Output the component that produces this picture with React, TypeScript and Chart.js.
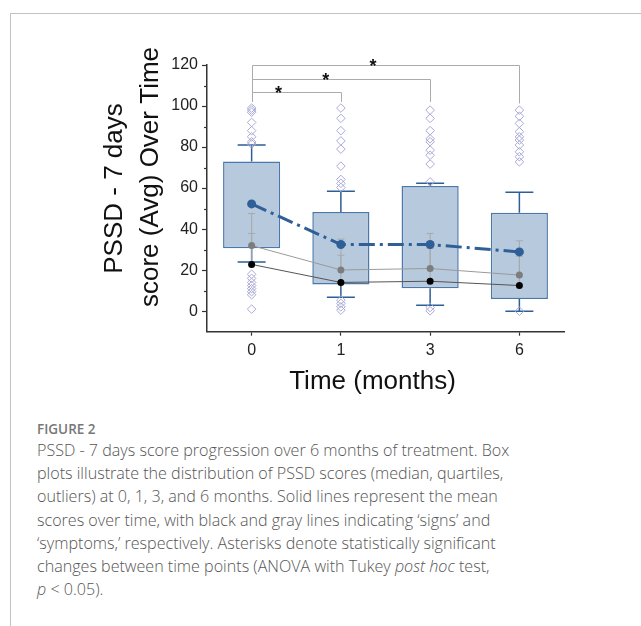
import React, { useEffect, useRef } from 'react';
import { Chart, registerables } from 'chart.js';

Chart.register(...registerables);

// ---------- data ----------
const categories = ['0', '1', '3', '6'];
const q1 = [30.7, 13, 11.2, 6];
const q3 = [73, 48.4, 61, 48];
const whiskerLow = [24, 6.8, 2.9, 0];
const whiskerHigh = [81, 58.5, 62.3, 58];
const meanTotal = [52.3, 32.5, 32.5, 28.9];
const meanSymptoms = [32, 20.1, 20.8, 17.6];
const meanSigns = [22.8, 14, 14.6, 12.5];
const symptomsErrTop = [47.6, 35.1, 37.9, 34.3];
const signsErrTop = [37.9, 27.3, 30.6, 26.8];
const outliers0 = [99, 98, 97, 92, 88, 85, 82.5, 81.5, 18, 16, 14, 12.5, 11, 9.5, 8, 1];
const outliers1 = [99, 94, 88, 83, 79, 70.7, 64.2, 62.3, 60.3, 5.4, 3.8, 2.1, 0.5];
const outliers3 = [98, 94, 88, 84, 82.6, 78.5, 76, 71.7, 63, 1.8, 0.2];
const outliers6 = [98, 95, 91.5, 87.5, 85, 83.4, 81, 77.7, 75.3, 72.8, 0];
const yTicks = [0, 20, 40, 60, 80, 100, 120];
const yMinorTicks = [10, 30, 50, 70, 90, 110];
const bracketFrom = [0, 0, 0];
const bracketTo = [1, 2, 3];
const bracketLevel = [107, 113, 120];
const bracketDropLeft = [102, 102, 102];
const bracketDropRight = [102, 102, 101.3];
const starPos = [0.3, 0.83, 1.36];
const yTitleLines = ['PSSD - 7 days', 'score (Avg) Over Time'];
const xTitle = 'Time (months)';

const FONT = "'Liberation Sans', Arial, Helvetica, sans-serif";

export default function App() {
  const ref = useRef<HTMLCanvasElement>(null);

  useEffect(() => {
    const canvas = ref.current;
    if (!canvas) return;

    const outlierPoints: { x: string; y: number }[] = [];
    [outliers0, outliers1, outliers3, outliers6].forEach((arr, i) => {
      arr.forEach((v) => outlierPoints.push({ x: categories[i], y: v }));
    });

    const overlay = {
      id: 'overlay',
      afterDatasetDraw(chart: any, args: any) {
        if (args.index !== 0) return;
        const ctx = chart.ctx;
        const xs = chart.scales.x;
        const ys = chart.scales.y;
        ctx.save();
        // whiskers
        ctx.strokeStyle = '#2d5e95';
        ctx.lineWidth = 1.5;
        categories.forEach((_, i) => {
          const x = xs.getPixelForValue(i);
          const half = 14;
          const yHi = ys.getPixelForValue(whiskerHigh[i]);
          const yQ3 = ys.getPixelForValue(q3[i]);
          const yLo = ys.getPixelForValue(whiskerLow[i]);
          const yQ1 = ys.getPixelForValue(q1[i]);
          ctx.beginPath();
          ctx.moveTo(x, yQ3);
          ctx.lineTo(x, yHi);
          ctx.moveTo(x - half, yHi);
          ctx.lineTo(x + half, yHi);
          ctx.moveTo(x, yQ1);
          ctx.lineTo(x, yLo);
          ctx.moveTo(x - half, yLo);
          ctx.lineTo(x + half, yLo);
          ctx.stroke();
        });
        // error bars
        ctx.strokeStyle = '#a8a8a8';
        ctx.lineWidth = 1;
        const drawErr = (means: number[], tops: number[]) => {
          categories.forEach((_, i) => {
            const x = xs.getPixelForValue(i);
            const y0 = ys.getPixelForValue(means[i]);
            const y1 = ys.getPixelForValue(tops[i]);
            ctx.beginPath();
            ctx.moveTo(x, y0);
            ctx.lineTo(x, y1);
            ctx.moveTo(x - 3.5, y1);
            ctx.lineTo(x + 3.5, y1);
            ctx.stroke();
          });
        };
        drawErr(meanSymptoms, symptomsErrTop);
        drawErr(meanSigns, signsErrTop);
        ctx.restore();
      },
      afterDraw(chart: any) {
        const ctx = chart.ctx;
        const xs = chart.scales.x;
        const ys = chart.scales.y;
        const area = chart.chartArea;
        ctx.save();
        // minor y ticks
        ctx.strokeStyle = '#333';
        ctx.lineWidth = 1.2;
        yMinorTicks.forEach((v) => {
          const y = Math.round(ys.getPixelForValue(v)) + 0.5;
          ctx.beginPath();
          ctx.moveTo(area.left - 3, y);
          ctx.lineTo(area.left, y);
          ctx.stroke();
        });
        // significance brackets
        ctx.strokeStyle = '#ababab';
        ctx.lineWidth = 1;
        bracketLevel.forEach((lvl, k) => {
          const xa = Math.round(xs.getPixelForValue(bracketFrom[k])) + 0.5;
          const xb = Math.round(xs.getPixelForValue(bracketTo[k])) + 0.5;
          const yl = Math.round(ys.getPixelForValue(lvl)) + 0.5;
          ctx.beginPath();
          ctx.moveTo(xa, ys.getPixelForValue(bracketDropLeft[k]));
          ctx.lineTo(xa, yl);
          ctx.lineTo(xb, yl);
          ctx.lineTo(xb, ys.getPixelForValue(bracketDropRight[k]));
          ctx.stroke();
          // asterisk
          ctx.fillStyle = '#111';
          ctx.font = `bold 18px ${FONT}`;
          ctx.textAlign = 'center';
          ctx.textBaseline = 'alphabetic';
          ctx.fillText('*', xs.getPixelForValue(starPos[k]), yl + 6);
        });
        // axis titles
        ctx.fillStyle = '#111';
        ctx.font = `26px ${FONT}`;
        ctx.textAlign = 'center';
        ctx.textBaseline = 'alphabetic';
        const titlePos = [
          [121.5, 188.5],
          [158, 177],
        ];
        yTitleLines.forEach((t, k) => {
          ctx.save();
          ctx.translate(titlePos[k][0], titlePos[k][1]);
          ctx.rotate(-Math.PI / 2);
          ctx.fillText(t, 0, 0);
          ctx.restore();
        });
        ctx.fillText(xTitle, 372.5, 388.5);
        ctx.restore();
      },
    };

    const chart = new Chart(canvas, {
      type: 'bar',
      data: {
        labels: categories,
        datasets: [
          {
            type: 'bar',
            data: categories.map((_, i) => [q1[i], q3[i]]) as any,
            backgroundColor: '#b7c9dc',
            borderColor: '#4a78ab',
            borderWidth: 1.5,
            borderSkipped: false,
            barPercentage: 0.64,
            categoryPercentage: 1,
            order: 10,
          } as any,
          {
            type: 'line',
            data: outlierPoints as any,
            showLine: false,
            pointStyle: 'rectRot',
            pointRadius: 4.3,
            pointBorderWidth: 1,
            pointBorderColor: '#a9a9d6',
            pointBackgroundColor: 'rgba(255,255,255,0)',
            order: 5,
          } as any,
          {
            type: 'line',
            data: meanSymptoms,
            borderColor: '#9a9a9a',
            borderWidth: 1,
            pointRadius: 3.5,
            pointBorderWidth: 0,
            pointBackgroundColor: '#7d7d7d',
            order: 3,
          } as any,
          {
            type: 'line',
            data: meanSigns,
            borderColor: '#555555',
            borderWidth: 1,
            pointRadius: 3.5,
            pointBorderWidth: 0,
            pointBackgroundColor: '#000000',
            order: 2,
          } as any,
          {
            type: 'line',
            data: meanTotal,
            borderColor: '#2e5f97',
            borderWidth: 3,
            borderDash: [16, 5, 3, 5],
            pointRadius: 4.5,
            pointBorderWidth: 0,
            pointBackgroundColor: '#2e5f97',
            order: 1,
          } as any,
        ],
      },
      options: {
        responsive: false,
        animation: false,
        devicePixelRatio: 1,
        layout: { padding: { left: 0, top: 65, right: 77, bottom: 0 } },
        plugins: { legend: { display: false }, tooltip: { enabled: false } },
        scales: {
          x: {
            type: 'category',
            offset: true,
            afterFit: (s: any) => {
              s.height = 78.3;
            },
            grid: { offset: false, drawOnChartArea: false, tickLength: 4, tickColor: '#333', tickWidth: 1.2 },
            border: { color: '#333', width: 1.5 },
            ticks: { font: { family: FONT, size: 16 }, color: '#222', padding: 5, maxRotation: 0 },
          },
          y: {
            min: -10,
            max: 120,
            afterBuildTicks: (s: any) => {
              s.ticks = yTicks.map((v) => ({ value: v }));
            },
            afterFit: (s: any) => {
              s.width = 207;
            },
            grid: { drawOnChartArea: false, tickLength: 5, tickColor: '#333', tickWidth: 1.2 },
            border: { color: '#333', width: 1.5 },
            ticks: { font: { family: FONT, size: 16 }, color: '#222', padding: 4 },
          },
        },
      } as any,
      plugins: [overlay],
    });
    return () => chart.destroy();
  }, []);

  const capStyle: React.CSSProperties = {
    fontFamily: "'Open Sans', 'Noto Sans', sans-serif",
    fontWeight: 300,
    fontSize: 16.1,
    lineHeight: '23.2px',
    color: '#555',
    whiteSpace: 'nowrap',
  };

  return (
    <div style={{ position: 'fixed', left: 0, top: 0, width: 641, height: 626, overflow: 'hidden', background: '#fff' }}>
      <div style={{ position: 'absolute', left: 10, top: 13, width: 720, height: 720, border: '1px solid #c2c2c2' }} />
      <div style={{ position: 'absolute', left: 0, top: 0, width: 641, height: 410 }}>
        <canvas ref={ref} width={641} height={410} style={{ display: 'block', width: 641, height: 410 }} />
      </div>
      <div style={{ position: 'absolute', left: 37, top: 419 }}>
        <div
          style={{
            fontFamily: "'Open Sans', 'Noto Sans', sans-serif",
            fontWeight: 600,
            fontSize: 13.5,
            lineHeight: '20px',
            color: '#777',
          }}
        >
          FIGURE 2
        </div>
        <div style={capStyle}>
          PSSD - 7 days score progression over 6 months of treatment. Box
          <br />
          plots illustrate the distribution of PSSD scores (median, quartiles,
          <br />
          outliers) at 0, 1, 3, and 6 months. Solid lines represent the mean
          <br />
          scores over time, with black and gray lines indicating ‘signs’ and
          <br />
          ‘symptoms,’ respectively. Asterisks denote statistically significant
          <br />
          changes between time points (ANOVA with Tukey <i>post hoc</i> test,
          <br />
          <i>p</i> &lt; 0.05).
        </div>
      </div>
    </div>
  );
}
